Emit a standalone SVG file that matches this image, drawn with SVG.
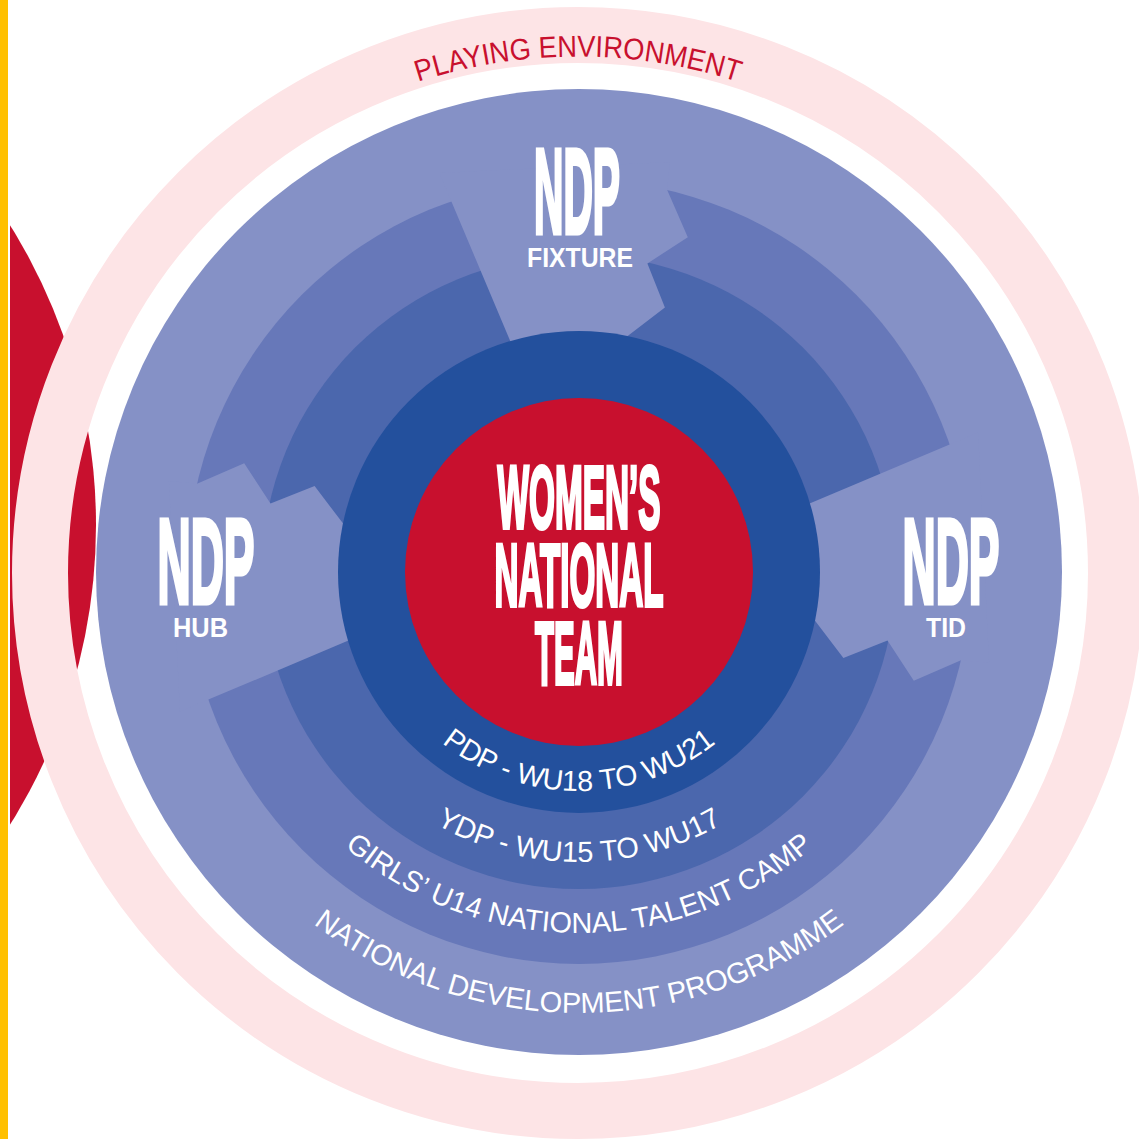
<svg xmlns="http://www.w3.org/2000/svg" width="1139" height="1139" viewBox="0 0 1139 1139">
<style>
.ring-text{font-family:'Liberation Sans',Arial,sans-serif;font-size:29px;fill:#ffffff;}
.env-text{font-family:'Liberation Sans',Arial,sans-serif;font-size:30px;fill:#C8102E;}
.ndp{font-family:'Liberation Sans',Arial,sans-serif;font-weight:700;font-size:121px;fill:#ffffff;stroke:#ffffff;stroke-width:5;stroke-linejoin:miter;}
.sub{font-family:'Liberation Sans',Arial,sans-serif;font-weight:700;font-size:27px;fill:#ffffff;}
.core{font-family:'Liberation Sans',Arial,sans-serif;font-weight:700;font-size:89px;fill:#ffffff;stroke:#ffffff;stroke-width:4;stroke-linejoin:miter;}
.wedge{fill:#8591C6;}
</style>
<defs>
<polygon id="wedgeShape" points="439.4,172.9 451.4,201.4 511.4,343.8 624.4,338.4 664.9,307.6 647.4,263.5 687.8,237.2 667.2,190 669.9,161.9"/>
<path id="arcEnv" d="M 92.2 394.8 A 518 518 0 0 1 1063.8 394.8"/>
<path id="arcPdp" d="M 373.2 646.9 A 219 219 0 0 0 784.8 646.9"/>
<path id="arcYdp" d="M 306.5 671.2 A 290 290 0 0 0 851.5 671.2"/>
<path id="arcGirls" d="M 239.8 695.5 A 361 361 0 0 0 918.2 695.5"/>
<path id="arcNdp" d="M 164.6 722.8 A 441 441 0 0 0 993.4 722.8"/>
</defs>
<rect width="1139" height="1139" fill="#ffffff"/>
<g id="background">
<circle cx="-470" cy="525" r="566" fill="#C8102E"/>
<rect x="0" y="0" width="8" height="1139" fill="#FFC000"/>
<rect x="8" y="0" width="2" height="1139" fill="#ffffff"/>
</g>
<g id="playing-environment">
<circle cx="578" cy="573" r="538" fill="none" stroke="#FDE4E6" stroke-width="56"/>
<text class="env-text"><textPath href="#arcEnv" startOffset="50%" text-anchor="middle" textLength="325" lengthAdjust="spacingAndGlyphs">PLAYING ENVIRONMENT</textPath></text>
</g>
<g id="national-development-programme">
<circle cx="579" cy="572" r="483" fill="#8591C6"/>
</g>
<g id="girls-u14-camp">
<circle cx="579" cy="572" r="392" fill="#6778B9"/>
</g>
<g id="ydp">
<circle cx="579" cy="572" r="317" fill="#4B67AD"/>
</g>
<g id="wedges">
<use href="#wedgeShape" class="wedge"/>
<use href="#wedgeShape" class="wedge" transform="rotate(-90 579 572)"/>
<use href="#wedgeShape" class="wedge" transform="rotate(90 579 572)"/>
</g>
<g id="pdp">
<circle cx="579" cy="572" r="241" fill="#23509D"/>
</g>
<g id="womens-national-team">
<circle cx="579" cy="572" r="174" fill="#C8102E"/>
<text class="core" x="579" y="528" text-anchor="middle" textLength="163" lengthAdjust="spacingAndGlyphs">WOMEN’S</text>
<text class="core" x="579" y="606" text-anchor="middle" textLength="169" lengthAdjust="spacingAndGlyphs">NATIONAL</text>
<text class="core" x="579" y="684" text-anchor="middle" textLength="88" lengthAdjust="spacingAndGlyphs">TEAM</text>
</g>
<g id="ring-labels">
<text class="ring-text"><textPath href="#arcPdp" startOffset="50%" text-anchor="middle" textLength="296" lengthAdjust="spacingAndGlyphs">PDP - WU18 TO WU21</textPath></text>
<text class="ring-text"><textPath href="#arcYdp" startOffset="50%" text-anchor="middle" textLength="300" lengthAdjust="spacingAndGlyphs">YDP - WU15 TO WU17</textPath></text>
<text class="ring-text"><textPath href="#arcGirls" startOffset="50%" text-anchor="middle" textLength="510" lengthAdjust="spacingAndGlyphs">GIRLS’ U14 NATIONAL TALENT CAMP</textPath></text>
<text class="ring-text"><textPath href="#arcNdp" startOffset="50%" text-anchor="middle" textLength="570" lengthAdjust="spacingAndGlyphs">NATIONAL DEVELOPMENT PROGRAMME</textPath></text>
</g>
<g id="ndp-fixture">
<text class="ndp" x="577" y="232.5" text-anchor="middle" textLength="86" lengthAdjust="spacingAndGlyphs">NDP</text>
<text class="sub" x="580" y="267" text-anchor="middle" textLength="106" lengthAdjust="spacingAndGlyphs">FIXTURE</text>
</g>
<g id="ndp-hub">
<text class="ndp" x="206" y="602.5" text-anchor="middle" textLength="97" lengthAdjust="spacingAndGlyphs">NDP</text>
<text class="sub" x="200.5" y="637" text-anchor="middle" textLength="55" lengthAdjust="spacingAndGlyphs">HUB</text>
</g>
<g id="ndp-tid">
<text class="ndp" x="951" y="602.5" text-anchor="middle" textLength="97" lengthAdjust="spacingAndGlyphs">NDP</text>
<text class="sub" x="946" y="637" text-anchor="middle" textLength="40" lengthAdjust="spacingAndGlyphs">TID</text>
</g>
<g id="connectors"></g>
</svg>
